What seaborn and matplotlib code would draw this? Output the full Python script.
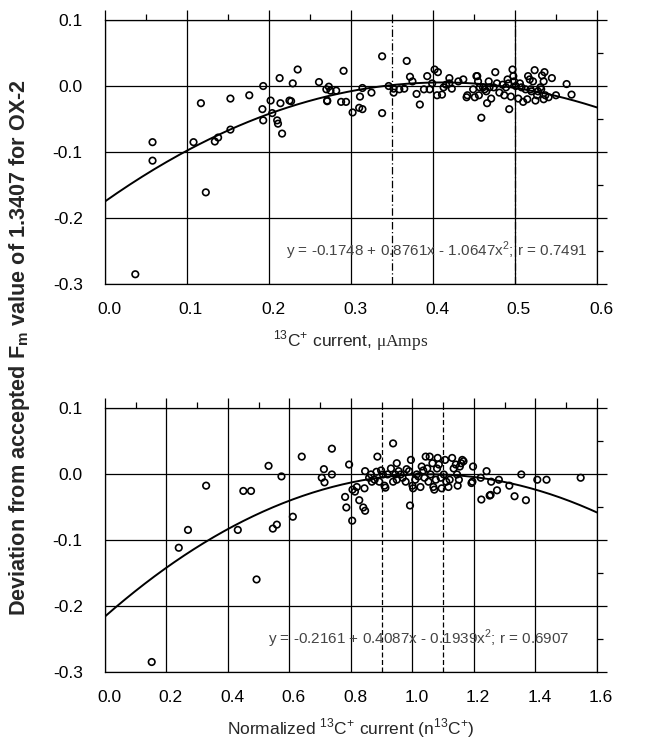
import numpy as np
import pandas as pd
import matplotlib
matplotlib.use("Agg")
import matplotlib.pyplot as plt
from matplotlib.ticker import MultipleLocator, FormatStrFormatter
from matplotlib.transforms import ScaledTranslation
import seaborn as sns

# ---------------- data ----------------
top_x = [0.037, 0.058, 0.058, 0.108, 0.117, 0.123, 0.134, 0.138, 0.153, 0.153,
         0.176, 0.193, 0.192, 0.193, 0.202, 0.204, 0.213, 0.210, 0.211, 0.216,
         0.214, 0.225, 0.227, 0.229, 0.235, 0.261, 0.270, 0.273, 0.275, 0.282,
         0.271, 0.271, 0.288, 0.294, 0.291, 0.302, 0.311, 0.310, 0.314, 0.314,
         0.325, 0.338, 0.338, 0.346, 0.352, 0.352, 0.359, 0.365, 0.368, 0.372,
         0.375, 0.380, 0.384, 0.389, 0.393, 0.396, 0.399, 0.402, 0.406, 0.405,
         0.411, 0.413, 0.416, 0.420, 0.420, 0.423, 0.431, 0.437, 0.441, 0.442,
         0.449, 0.451, 0.453, 0.454, 0.455, 0.456, 0.457, 0.459, 0.461, 0.463,
         0.465, 0.466, 0.468, 0.469, 0.471, 0.474, 0.476, 0.478, 0.481, 0.485,
         0.487, 0.489, 0.491, 0.492, 0.493, 0.495, 0.497, 0.498, 0.499, 0.501,
         0.504, 0.506, 0.508, 0.510, 0.513, 0.515, 0.516, 0.518, 0.519, 0.520,
         0.522, 0.524, 0.525, 0.527, 0.528, 0.531, 0.532, 0.533, 0.535, 0.536,
         0.535, 0.537, 0.541, 0.545, 0.550, 0.563, 0.569]
top_y = [-0.285, -0.085, -0.113, -0.085, -0.026, -0.161, -0.084, -0.078, -0.019, -0.066,
         -0.014, 0.000, -0.035, -0.052, -0.022, -0.041, 0.012, -0.052, -0.057, -0.072,
         -0.026, -0.022, -0.023, 0.004, 0.025, 0.006, -0.005, -0.001, -0.007, -0.007,
         -0.022, -0.023, -0.024, -0.024, 0.023, -0.040, -0.016, -0.033, -0.035, -0.003,
         -0.010, 0.045, -0.041, 0.000, -0.010, -0.004, -0.005, -0.004, 0.038, 0.014,
         0.007, -0.012, -0.028, -0.005, 0.015, -0.005, 0.004, 0.025, 0.021, -0.014,
         -0.013, -0.002, 0.002, 0.012, 0.004, -0.004, 0.007, 0.010, -0.017, -0.014,
         -0.005, -0.017, 0.015, 0.015, 0.007, -0.014, -0.002, -0.048, -0.002, -0.005,
         -0.008, -0.026, 0.007, -0.002, -0.019, -0.002, 0.021, 0.004, -0.010, 0.002,
         -0.014, -0.002, 0.010, 0.004, -0.035, -0.016, 0.025, 0.015, 0.007, 0.000,
         -0.019, 0.004, -0.002, -0.024, -0.005, -0.020, 0.015, 0.010, -0.005, -0.008,
         0.007, 0.024, -0.022, -0.014, -0.008, -0.002, -0.005, 0.016, 0.007, 0.021,
         -0.020, -0.014, -0.017, 0.012, -0.014, 0.003, -0.013]

bot_x = [0.152, 0.240, 0.270, 0.329, 0.432, 0.450, 0.475, 0.493, 0.532, 0.546,
         0.559, 0.574, 0.611, 0.640, 0.705, 0.712, 0.714, 0.738, 0.738, 0.781,
         0.785, 0.794, 0.804, 0.805, 0.813, 0.819, 0.827, 0.840, 0.846, 0.844,
         0.846, 0.859, 0.865, 0.868, 0.877, 0.883, 0.886, 0.892, 0.898, 0.904,
         0.909, 0.912, 0.919, 0.930, 0.937, 0.937, 0.944, 0.949, 0.949, 0.955,
         0.962, 0.968, 0.978, 0.981, 0.989, 0.992, 0.995, 1.000, 1.002, 1.009,
         1.014, 1.019, 1.026, 1.030, 1.035, 1.039, 1.043, 1.048, 1.052, 1.056,
         1.059, 1.065, 1.068, 1.071, 1.076, 1.080, 1.082, 1.086, 1.092, 1.095,
         1.102, 1.106, 1.110, 1.117, 1.121, 1.129, 1.134, 1.141, 1.145, 1.147,
         1.151, 1.154, 1.158, 1.162, 1.166, 1.192, 1.195, 1.197, 1.222, 1.224,
         1.241, 1.251, 1.254, 1.256, 1.275, 1.281, 1.315, 1.332, 1.354, 1.369,
         1.406, 1.436, 1.547]
bot_y = [-0.285, -0.112, -0.085, -0.018, -0.085, -0.026, -0.026, -0.160, 0.012, -0.083,
         -0.077, -0.004, -0.065, 0.026, -0.006, 0.007, -0.013, 0.038, -0.001, -0.035,
         -0.051, 0.014, -0.071, -0.024, -0.027, -0.020, -0.040, -0.051, -0.056, -0.022,
         0.004, -0.006, -0.001, -0.012, -0.009, 0.003, 0.026, -0.012, 0.005, -0.001,
         -0.018, -0.021, -0.001, 0.008, 0.046, -0.012, -0.001, 0.016, -0.009, 0.004,
         -0.001, -0.006, -0.012, 0.007, 0.004, -0.048, 0.021, -0.018, -0.022, -0.009,
         -0.001, -0.004, -0.020, 0.011, 0.005, -0.006, 0.026, 0.008, -0.012, 0.026,
         -0.001, 0.016, -0.020, -0.024, -0.009, 0.008, 0.024, 0.014, -0.006, -0.022,
         -0.001, 0.021, -0.012, -0.020, -0.009, 0.024, 0.008, 0.014, -0.001, -0.018,
         -0.009, 0.011, 0.016, 0.021, 0.019, -0.014, -0.012, 0.011, -0.006, -0.039,
         0.004, -0.033, -0.032, -0.012, -0.025, -0.009, -0.018, -0.034, -0.001, -0.040,
         -0.009, -0.009, -0.006]

# quadratic fit coefficients (c0, c1, c2) and correlation
top_coef = [-0.1748, 0.8761, -1.0647]
top_r = 0.7491
bot_coef = [-0.2161, 0.4087, -0.1939]
bot_r = 0.6907

top_vlines = [0.35, 0.50]
bot_vlines = [0.90, 1.10]

top_xticks = [0.0, 0.1, 0.2, 0.3, 0.4, 0.5, 0.6]
bot_xticks = [0.0, 0.2, 0.4, 0.6, 0.8, 1.0, 1.2, 1.4, 1.6]
yticks = [-0.3, -0.2, -0.1, 0.0, 0.1]

top_eq = "y = -0.1748 + 0.8761x - 1.0647x$^{\\mathsf{2}}$; r = 0.7491"
bot_eq = "y = -0.2161 + 0.4087x - 0.1939x$^{\\mathsf{2}}$; r = 0.6907"

# ---------------- style ----------------
sns.set_style("white")
plt.rcParams["font.family"] = ["Liberation Sans", "DejaVu Sans"]
plt.rcParams["mathtext.fontset"] = "custom"
plt.rcParams["mathtext.rm"] = "Liberation Serif"
plt.rcParams["mathtext.sf"] = "Liberation Sans"
plt.rcParams["mathtext.bf"] = "Liberation Sans:bold"

fig = plt.figure(figsize=(6.56, 7.40), dpi=100)
ax1 = fig.add_axes([0.160, 0.616, 0.750, 0.357])
ax2 = fig.add_axes([0.160, 0.092, 0.750, 0.357])


def draw(ax, xs, ys, coef, xmax, xticks, xminor, vlines, vstyle, eq, eqx):
    for v in xticks:
        ax.axvline(v, color="black", lw=0.9, zorder=1)
    for v in yticks:
        ax.axhline(v, color="black", lw=0.9, zorder=1)
    for v in vlines:
        ax.axvline(v, color="black", lw=0.9, ls=vstyle, zorder=1)
    df = pd.DataFrame({"x": xs, "y": ys})
    sns.scatterplot(data=df, x="x", y="y", ax=ax, color="black", s=22,
                    linewidth=1.2, zorder=3, legend=False)
    coll = ax.collections[-1]
    coll.set_facecolor("none")
    coll.set_edgecolor("black")
    xf = np.linspace(0, xmax, 200)
    yf = coef[0] + coef[1] * xf + coef[2] * xf ** 2
    sns.lineplot(x=xf, y=yf, ax=ax, color="black", lw=1.4, zorder=2)
    ax.set_xlim(0, xmax)
    ax.set_ylim(-0.3, 0.1)
    ax.set_xticks(xticks)
    ax.set_yticks(yticks)
    ax.xaxis.set_minor_locator(MultipleLocator(xminor))
    ax.yaxis.set_minor_locator(MultipleLocator(0.05))
    ax.xaxis.set_major_formatter(FormatStrFormatter("%.1f"))
    ax.yaxis.set_major_formatter(FormatStrFormatter("%.1f"))
    ax.tick_params(which="major", direction="out", length=7, width=0.9,
                   labelsize=12.5, top=True, right=True, color="black",
                   labelcolor="black")
    ax.tick_params(axis="x", which="major", pad=6)
    ax.tick_params(axis="y", which="major", pad=9)
    ax.tick_params(which="minor", direction="out", length=4, width=0.9,
                   top=True, right=True, color="black")
    off = ScaledTranslation(4 / 100, 0, fig.dpi_scale_trans)
    for lab in ax.get_xticklabels():
        lab.set_transform(lab.get_transform() + off)
    for s in ax.spines.values():
        s.set_color("black")
        s.set_linewidth(0.9)
    ax.set_ylabel("")
    ax.text(eqx, -0.25, eq, fontsize=11, color="#444444", va="center",
            ha="left", zorder=4)


draw(ax1, top_x, top_y, top_coef, 0.6, top_xticks, 0.05, top_vlines,
     (0, (6, 2, 1, 2)), top_eq, 0.221)
draw(ax2, bot_x, bot_y, bot_coef, 1.6, bot_xticks, 0.1, bot_vlines,
     (0, (4, 2)), bot_eq, 0.53)

ax1.set_xlabel("$^{\\mathsf{13}}$C$^{\\mathsf{+}}$ current, $\\mathrm{\\mu Amps}$",
               fontsize=12.5, labelpad=8)
ax2.set_xlabel("Normalized $^{\\mathsf{13}}$C$^{\\mathsf{+}}$ current "
               "(n$^{\\mathsf{13}}$C$^{\\mathsf{+}}$)", fontsize=12.5, labelpad=8)

ylab = fig.text(0.03, 0.530,
                "Deviation from accepted $\\mathbf{F_m}$ value of 1.3407 for OX-2",
                rotation=90, ha="center", va="center", fontsize=13,
                fontweight="bold")
# scale the label so it spans about 535 px, as in the reference
fig.canvas.draw()
h = ylab.get_window_extent(fig.canvas.get_renderer()).height
ylab.set_fontsize(13 * 535 / h)

fig.savefig("out.png", dpi=100, facecolor="white")
